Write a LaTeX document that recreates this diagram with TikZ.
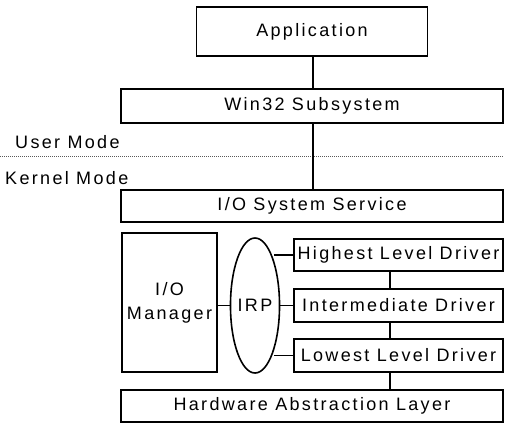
\documentclass[tikz,border=0pt]{standalone}
\usepackage{fontspec}
\setmainfont{Liberation Sans}[LetterSpace=13]
\usetikzlibrary{shapes.geometric}
\begin{document}
\begin{tikzpicture}[x=1pt,y=-1pt,
  every node/.style={font=\fontsize{18}{24}\selectfont, inner sep=0pt},
  box/.style={draw, line width=1.6pt, rectangle, align=center},
  conn/.style={line width=1.6pt},
  modelabel/.style={anchor=base west}]
\useasboundingbox (0,0) rectangle (505,424);
% boxes
\node[box, minimum width=231pt, minimum height=49pt] (app) at (312,31.5) {Application};
\node[box, minimum width=382pt, minimum height=34pt] (win) at (312,106) {Win32 Subsystem};
\node[box, minimum width=382pt, minimum height=32pt] (ioss) at (312,206) {I/O System Service};
\node[box, minimum width=95pt, minimum height=139pt] (iom) at (169.5,302.5) {I/O\\Manager};
\node[draw, line width=1.6pt, ellipse, minimum width=38pt, minimum height=135pt] (irp) at (255,305.5) {IRP};
\node[box, minimum width=209pt, minimum height=32pt] (hld) at (398.5,255) {Highest Level Driver};
\node[box, minimum width=209pt, minimum height=33pt] (imd) at (398.5,305.5) {Intermediate Driver};
\node[box, minimum width=209pt, minimum height=33pt] (lld) at (398.5,355.5) {Lowest Level Driver};
\node[box, minimum width=382pt, minimum height=32pt] (hal) at (312,406) {Hardware Abstraction Layer};
% mode labels and separator
\node[modelabel] (um) at (15,148) {User Mode};
\node[modelabel] (km) at (5,184) {Kernel Mode};
\coordinate (sepL) at (0,156);
\coordinate (sepR) at (503,156);
\draw[line width=0.7pt, gray!70!black, dash pattern=on 0.7pt off 1.3pt] (sepL) -- (sepR);
% connectors
\coordinate (ml) at (313,0);
\coordinate (dl) at (390,0);
\coordinate (stubx) at (274,0);
\draw[conn] (app.south -| ml) -- (win.north -| ml);
\draw[conn] (win.south -| ml) -- (ioss.north -| ml);
\draw[conn] (hld.south -| dl) -- (imd.north -| dl);
\draw[conn] (imd.south -| dl) -- (lld.north -| dl);
\draw[conn] (lld.south -| dl) -- (hal.north -| dl);
\draw[conn] (iom.east |- irp.west) -- (irp.west);
\draw[conn] (irp.east) -- (imd.west);
\draw[conn] (hld.west -| stubx) -- (hld.west);
\draw[conn] (lld.west -| stubx) -- (lld.west);
\end{tikzpicture}
\end{document}
